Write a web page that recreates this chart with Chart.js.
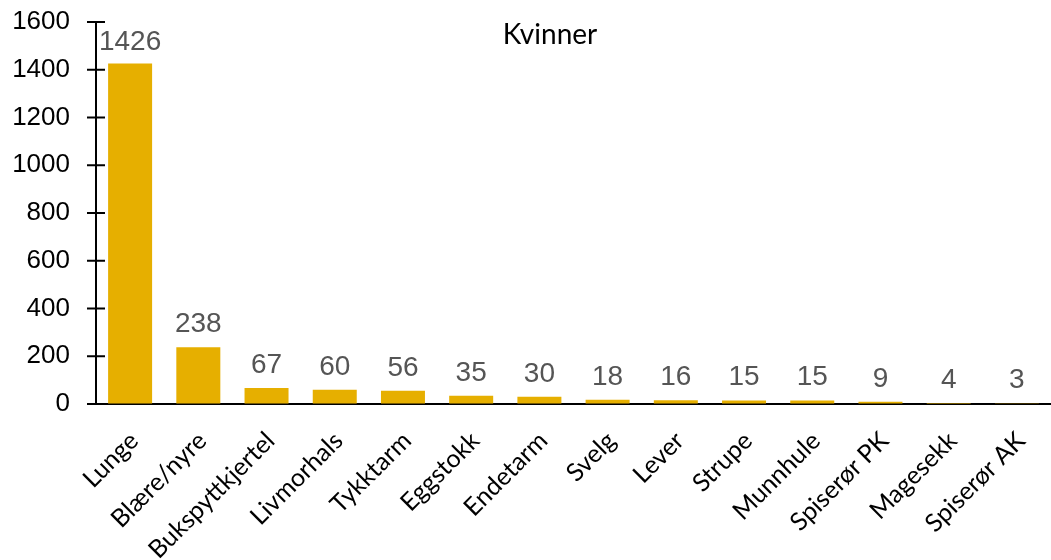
<!DOCTYPE html>
<html><head><meta charset="utf-8">
<script src="https://cdn.jsdelivr.net/npm/chart.js@4/dist/chart.umd.min.js"></script>
<style>html,body{margin:0;padding:0;background:#fff}</style>
</head><body>
<canvas id="c" width="1051" height="560"></canvas>
<script>
const categories = ["Lunge","Blære/nyre","Bukspyttkjertel","Livmorhals","Tykktarm","Eggstokk","Endetarm","Svelg","Lever","Strupe","Munnhule","Spiserør PK","Magesekk","Spiserør AK"];
const values = [1426,238,67,60,56,35,30,18,16,15,15,9,4,3];
const yTicks = [0,200,400,600,800,1000,1200,1400,1600];
const title = "Kvinner";

const crossTicks = {
  id:'crossTicks',
  afterDraw(chart){
    const y = chart.scales.y, ctx = chart.ctx;
    const x0 = chart.chartArea.left;
    ctx.save();
    ctx.strokeStyle='#000'; ctx.lineWidth=2;
    yTicks.forEach(v=>{
      const py = y.getPixelForValue(v);
      ctx.beginPath(); ctx.moveTo(x0-9,py); ctx.lineTo(x0+9,py); ctx.stroke();
    });
    ctx.restore();
  }
};
const dataLabels = {
  id:'dataLabels',
  afterDatasetsDraw(chart){
    const ctx=chart.ctx, meta=chart.getDatasetMeta(0);
    ctx.save();
    ctx.fillStyle='#555555'; ctx.font='28px "Liberation Sans", Arial, sans-serif';
    ctx.textAlign='center'; ctx.textBaseline='alphabetic';
    meta.data.forEach((b,i)=>{
      const ty = Math.max(b.y - 15, 50);
      ctx.fillText(String(values[i]), b.x, ty);
    });
    ctx.restore();
  }
};
const titlePlugin = {
  id:'titleText',
  afterDraw(chart){
    const ctx=chart.ctx;
    ctx.save();
    ctx.fillStyle='#000'; ctx.font='28px Lato, sans-serif';
    ctx.textAlign='center'; ctx.textBaseline='middle';
    ctx.fillText(title, 550, 35);
    ctx.restore();
  }
};

new Chart(document.getElementById('c'), {
  type:'bar',
  data:{labels:categories, datasets:[{data:values, backgroundColor:'#E6AF00', borderWidth:0, categoryPercentage:1, barPercentage:0.645}]},
  options:{
    responsive:false, animation:false,
    layout:{padding:{top:22,right:0,bottom:0,left:0}},
    plugins:{legend:{display:false}, tooltip:{enabled:false}, title:{display:false}},
    scales:{
      x:{
        afterFit(s){ s.height = 156; s.paddingRight = 0; },
        grid:{display:false, drawTicks:false},
        border:{display:true, color:'#000', width:2},
        ticks:{color:'#000', font:{family:'Lato', size:25}, maxRotation:45, minRotation:45, autoSkip:false, padding:22, labelOffset:4}
      },
      y:{
        min:0, max:1600,
        afterBuildTicks(s){ s.ticks = yTicks.map(v=>({value:v})); },
        afterFit(s){ s.width = 96; },
        grid:{display:true, drawOnChartArea:false, drawTicks:true, tickLength:26, tickColor:'rgba(0,0,0,0)'},
        border:{display:true, color:'#000', width:2},
        ticks:{color:'#000', font:{family:'"Liberation Sans"', size:26}, padding:0, callback:(v)=>String(v)}
      }
    }
  },
  plugins:[crossTicks, dataLabels, titlePlugin]
});
</script>
</body></html>
